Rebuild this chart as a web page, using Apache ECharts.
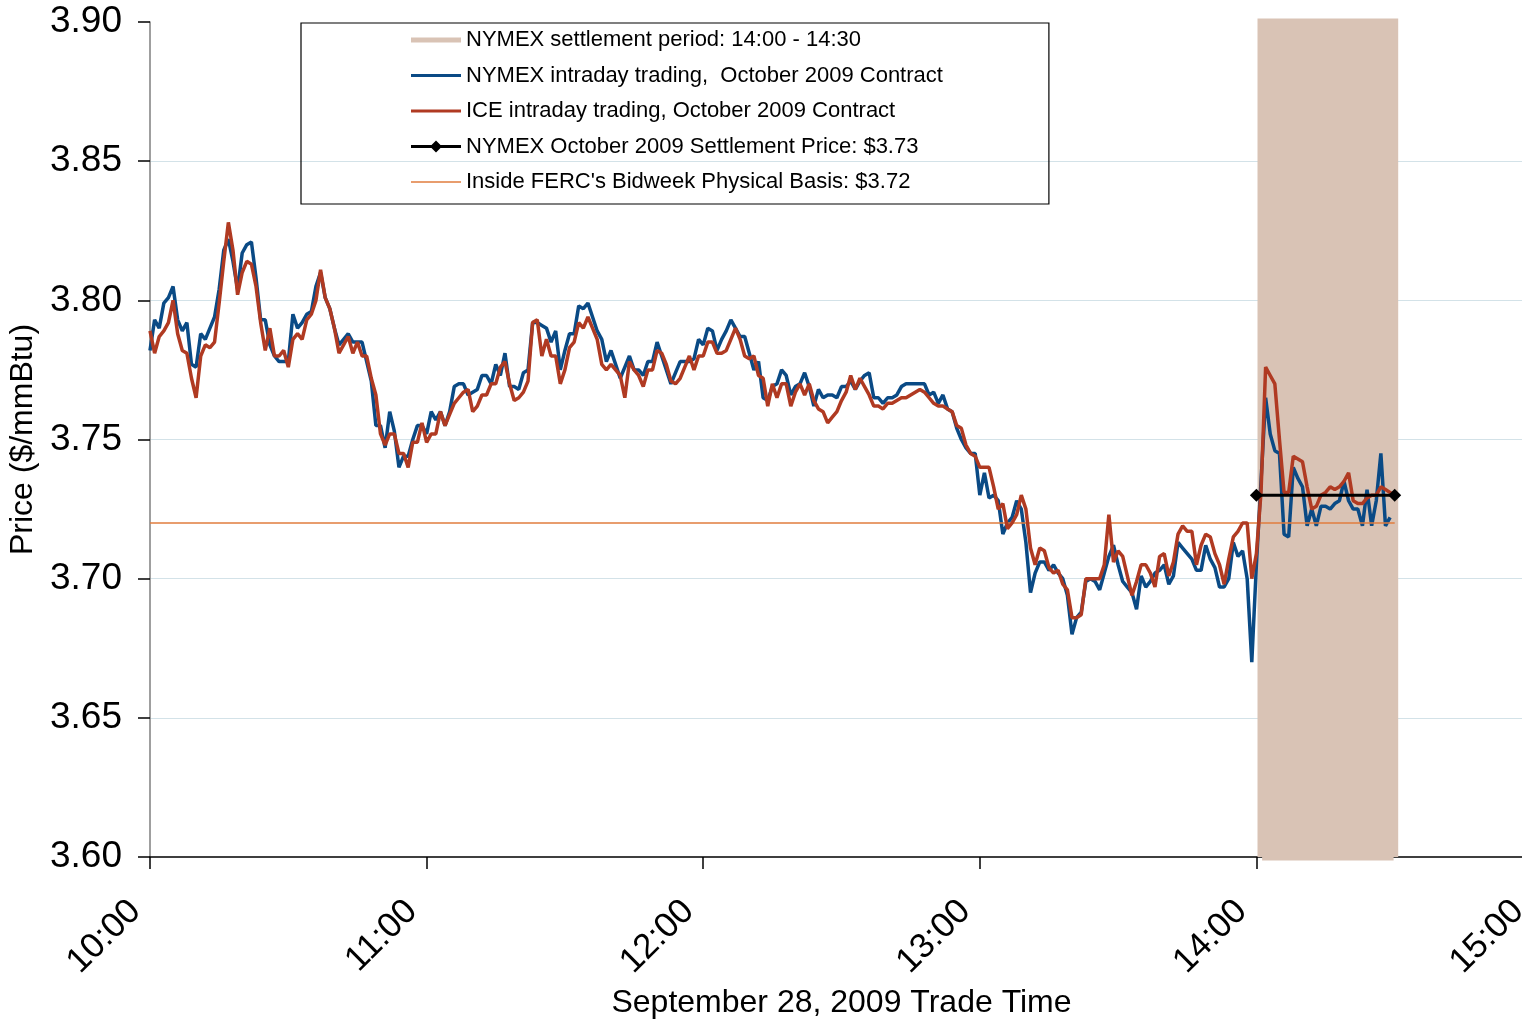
<!DOCTYPE html>
<html>
<head>
<meta charset="utf-8">
<script src="https://cdn.jsdelivr.net/npm/echarts@6/dist/echarts.min.js"></script>
<style>
html,body{margin:0;padding:0;background:#fff;overflow:hidden;}
#chart{width:1540px;height:1023px;}
</style>
</head>
<body>
<div id="chart"></div>
<script>
// Minutes after 10:00 are the x-values; index i of each series = minute i.
const timeTickLabels = ['10:00','11:00','12:00','13:00','14:00','15:00'];
const yTickLabels = ['3.60','3.65','3.70','3.75','3.80','3.85','3.90'];

const nymexIntraday = [
3.782,3.793,3.790,3.799,3.801,3.805,3.793,3.789,3.792,3.777,
3.776,3.788,3.786,3.790,3.794,3.804,3.818,3.822,3.814,3.804,
3.817,3.820,3.821,3.808,3.793,3.793,3.784,3.780,3.778,3.778,
3.778,3.795,3.790,3.792,3.795,3.796,3.805,3.810,3.801,3.797,
3.790,3.784,3.786,3.788,3.785,
3.785,3.785,3.778,3.771,3.755,3.755,3.747,3.760,3.753,3.740,
3.744,3.744,3.750,3.755,3.755,3.752,3.760,3.757,3.760,3.755,
3.760,3.769,3.770,3.770,3.766,3.767,3.768,3.773,3.773,3.770,
3.777,3.773,3.781,3.769,3.769,3.768,3.774,3.775,3.792,3.792,
3.791,3.790,3.785,3.789,
3.775,3.782,3.788,3.788,3.798,3.797,3.799,3.794,3.789,3.786,
3.778,3.782,3.777,3.772,3.776,3.780,3.775,3.775,3.773,3.778,
3.778,3.785,3.780,3.775,3.770,3.774,3.778,3.778,3.778,3.779,
3.786,3.784,3.790,3.789,3.782,3.786,3.789,3.793,3.790,3.787,
3.787,3.781,3.775,3.778,3.765,
3.764,3.769,3.770,3.775,3.773,3.766,3.769,3.770,3.774,3.769,
3.762,3.768,3.765,3.766,3.766,3.765,3.769,3.769,3.771,3.768,
3.771,3.773,3.774,3.765,3.765,3.763,3.765,3.765,3.766,3.769,
3.770,3.770,3.770,3.770,3.770,3.766,3.767,3.763,3.766,3.761,
3.760,3.754,3.750,3.747,
3.745,3.745,3.730,3.738,3.729,3.730,3.728,3.716,3.720,3.722,
3.728,3.725,3.713,3.695,3.702,3.706,3.706,3.703,3.705,3.702,
3.700,3.694,3.680,3.686,3.688,3.699,3.700,3.699,3.696,3.702,
3.708,3.712,3.705,3.699,3.697,3.695,3.689,3.701,3.697,3.699,
3.702,3.703,3.705,3.698,3.701,
3.713,3.711,3.709,3.707,3.703,3.703,3.712,3.707,3.704,3.697,
3.697,3.700,3.713,3.708,3.710,3.700,3.670,3.705,3.735,3.765,
3.752,3.746,3.745,3.716,3.715,3.740,3.736,3.733,3.719,3.725,
3.719,3.726,3.726,3.725,3.727,3.728,3.735,3.728,3.725,3.725,
3.719,3.732,3.719,3.728,3.745,3.719,3.722
];

const iceIntraday = [
3.789,3.781,3.787,3.789,3.792,3.800,3.788,3.782,3.781,3.772,
3.765,3.780,3.784,3.783,3.785,3.799,3.814,3.828,3.818,3.802,
3.810,3.814,3.813,3.805,3.792,3.782,3.790,3.780,3.780,3.782,
3.776,3.786,3.788,3.786,3.793,3.795,3.800,3.811,3.801,3.797,
3.790,3.781,3.784,3.787,3.781,
3.785,3.780,3.780,3.772,3.766,3.752,3.748,3.752,3.752,3.745,
3.745,3.740,3.749,3.749,3.756,3.749,3.752,3.752,3.760,3.755,
3.759,3.763,3.765,3.767,3.768,3.760,3.762,3.766,3.766,3.770,
3.770,3.776,3.778,3.770,3.764,3.765,3.767,3.771,3.792,3.793,
3.780,3.786,3.780,3.780,
3.770,3.775,3.783,3.785,3.792,3.790,3.794,3.790,3.786,3.777,
3.775,3.777,3.775,3.773,3.765,3.778,3.775,3.773,3.769,3.775,
3.775,3.782,3.781,3.777,3.771,3.770,3.772,3.776,3.780,3.775,
3.780,3.780,3.785,3.785,3.781,3.781,3.782,3.786,3.790,3.786,
3.780,3.779,3.780,3.773,3.772,
3.762,3.770,3.765,3.770,3.770,3.762,3.767,3.770,3.766,3.770,
3.764,3.761,3.760,3.756,3.758,3.760,3.764,3.767,3.773,3.768,
3.772,3.769,3.766,3.762,3.762,3.761,3.763,3.763,3.764,3.765,
3.765,3.766,3.767,3.768,3.767,3.765,3.763,3.762,3.762,3.761,
3.760,3.755,3.754,3.748,
3.745,3.744,3.740,3.740,3.740,3.733,3.725,3.727,3.718,3.720,
3.723,3.730,3.725,3.711,3.705,3.711,3.710,3.704,3.702,3.703,
3.698,3.696,3.686,3.686,3.687,3.700,3.700,3.700,3.700,3.705,
3.723,3.706,3.710,3.708,3.701,3.694,3.699,3.705,3.705,3.702,
3.697,3.708,3.709,3.701,3.706,
3.716,3.719,3.717,3.717,3.705,3.712,3.716,3.715,3.709,3.705,
3.698,3.707,3.715,3.717,3.720,3.720,3.700,3.709,3.731,3.776,
3.773,3.770,3.750,3.731,3.731,3.744,3.743,3.742,3.733,3.725,
3.726,3.730,3.731,3.733,3.732,3.733,3.735,3.738,3.728,3.727,
3.727,3.729,3.730,3.730,3.733,3.732,3.731,3.730
];

// settlement-period band: one vertical stroke per minute, 14:01..14:30, drawn as a square wave
const settlementBandMinutes = [
241,241,242,242,243,243,244,244,245,245,246,246,247,247,248,248,249,249,250,250,
251,251,252,252,253,253,254,254,255,255,256,256,257,257,258,258,259,259,260,260,
261,261,262,262,263,263,264,264,265,265,266,266,267,267,268,268,269,269,270,270
];
const settlementBandValues = [
3.60,3.90,3.90,3.60,3.60,3.90,3.90,3.60,3.60,3.90,3.90,3.60,3.60,3.90,3.90,3.60,3.60,3.90,3.90,3.60,
3.60,3.90,3.90,3.60,3.60,3.90,3.90,3.60,3.60,3.90,3.90,3.60,3.60,3.90,3.90,3.60,3.60,3.90,3.90,3.60,
3.60,3.90,3.90,3.60,3.60,3.90,3.90,3.60,3.60,3.90,3.90,3.60,3.60,3.90,3.90,3.60,3.60,3.90,3.90,3.60
];

const settlementPriceMinutes = [240, 270];
const settlementPriceValues = [3.73, 3.73];
const basisMinutes = [0, 270];
const basisValues = [3.72, 3.72];

const seriesNames = [
  'NYMEX settlement period: 14:00 - 14:30',
  'NYMEX intraday trading,  October 2009 Contract',
  'ICE intraday trading, October 2009 Contract',
  'NYMEX October 2009 Settlement Price: $3.73',
  "Inside FERC's Bidweek Physical Basis: $3.72"
];

const FONT = "'Liberation Sans', Arial, sans-serif";
const pair = (xs, ys) => xs.map((x, i) => [x, ys[i]]);
const indexed = ys => ys.map((v, i) => [i, v]);

const legendIcons = [
  'path://M0,0 L50,0 L50,5 L0,5 Z',
  'path://M0,0 L50,0 L50,3 L0,3 Z',
  'path://M0,0 L50,0 L50,3 L0,3 Z',
  'path://M0,4.5 L50,4.5 L50,7.5 L0,7.5 Z M25,0 L31,6 L25,12 L19,6 Z',
  'path://M0,0 L50,0 L50,1.5 L0,1.5 Z'
];

const chart = echarts.init(document.getElementById('chart'), null, {renderer: 'canvas'});
chart.setOption({
  animation: false,
  backgroundColor: '#fff',
  textStyle: {fontFamily: FONT},
  grid: {left: 150, top: 22, width: 1383, bottom: 166, containLabel: false, outerBoundsMode: 'none'},
  legend: {
    orient: 'vertical',
    left: 301, top: 23,
    padding: [6, 106, 11, 110],
    borderColor: '#000', borderWidth: 1.2,
    itemWidth: 50, itemHeight: 12, itemGap: 13.5,
    textStyle: {fontFamily: FONT, fontSize: 22, color: '#000', lineHeight: 20},
    data: seriesNames.map((n, i) => ({name: n, icon: legendIcons[i]}))
  },
  xAxis: {
    type: 'value', min: 0, max: 300, interval: 60,
    name: 'September 28, 2009 Trade Time',
    nameLocation: 'middle', nameGap: 130,
    nameTextStyle: {fontFamily: FONT, fontSize: 32, color: '#000'},
    axisLine: {show: true, lineStyle: {color: '#000', width: 1.5}},
    axisTick: {show: true, length: 12, lineStyle: {color: '#000', width: 1.5}},
    axisLabel: {
      rotate: 45, margin: 34, padding: [0, 21, 0, 0], fontFamily: FONT, fontSize: 35, color: '#000',
      formatter: v => timeTickLabels[Math.round(v / 60)]
    },
    splitLine: {show: false}
  },
  yAxis: {
    type: 'value', min: 3.6, max: 3.9, interval: 0.05,
    name: 'Price ($/mmBtu)',
    nameLocation: 'middle', nameGap: 97,
    nameTextStyle: {fontFamily: FONT, fontSize: 32, color: '#000'},
    axisLine: {show: true, lineStyle: {color: '#7f7f7f', width: 1.5}},
    axisTick: {show: true, length: 12, lineStyle: {color: '#000', width: 1.5}},
    axisLabel: {
      margin: 28, fontFamily: FONT, fontSize: 37, color: '#000',
      formatter: v => yTickLabels[Math.round((v - 3.6) / 0.05)]
    },
    splitLine: {show: true, showMaxLine: false, showMinLine: false, lineStyle: {color: '#d3e2e8', width: 1.2}}
  },
  series: [
    {
      name: seriesNames[0], type: 'line', clip: false,
      data: pair(settlementBandMinutes, settlementBandValues),
      showSymbol: false, symbol: 'none',
      lineStyle: {color: '#d9c3b5', width: 7, join: 'miter', cap: 'butt'},
      itemStyle: {color: '#d9c3b5'}, z: 1
    },
    {
      name: seriesNames[1], type: 'line',
      data: indexed(nymexIntraday),
      showSymbol: false, symbol: 'none',
      lineStyle: {color: '#0a4a85', width: 3.5},
      itemStyle: {color: '#0a4a85'}, z: 2
    },
    {
      name: seriesNames[2], type: 'line',
      data: indexed(iceIntraday),
      showSymbol: false, symbol: 'none',
      lineStyle: {color: '#b03a22', width: 3.5},
      itemStyle: {color: '#b03a22'}, z: 3
    },
    {
      name: seriesNames[3], type: 'line',
      data: pair(settlementPriceMinutes, settlementPriceValues),
      symbol: 'diamond', symbolSize: 13, showSymbol: true,
      lineStyle: {color: '#000', width: 3},
      itemStyle: {color: '#000'}, z: 4
    },
    {
      name: seriesNames[4], type: 'line',
      data: pair(basisMinutes, basisValues),
      showSymbol: false, symbol: 'none',
      lineStyle: {color: '#e07c3e', width: 1.5},
      itemStyle: {color: '#e07c3e'}, z: 2
    }
  ]
});
</script>
</body>
</html>
